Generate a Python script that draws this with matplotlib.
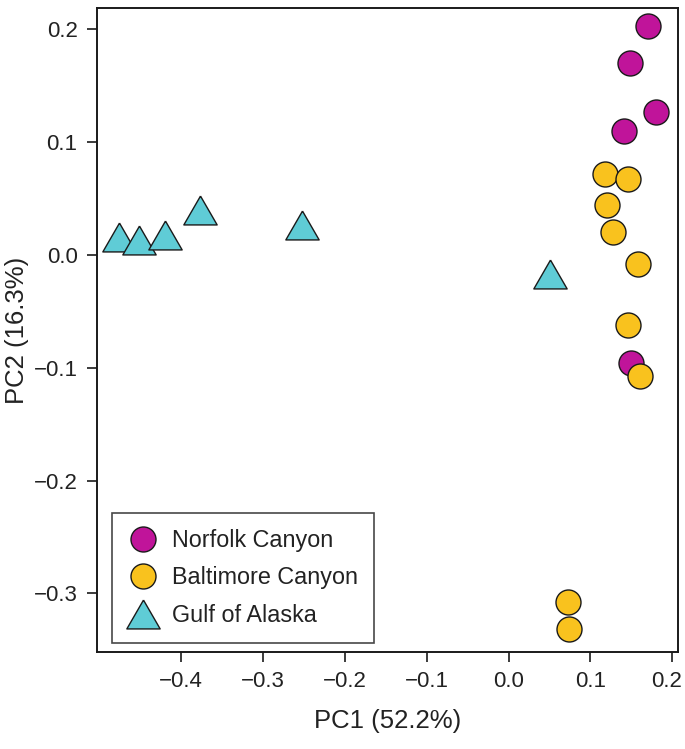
import matplotlib
matplotlib.use("Agg")
import matplotlib.pyplot as plt
import matplotlib.transforms as mtransforms
import numpy as np

plt.rcParams['font.family'] = ['Liberation Sans', 'DejaVu Sans']

# PCA scores
norfolk_x = [0.170, 0.148, 0.180, 0.141, 0.149]
norfolk_y = [0.203, 0.170, 0.127, 0.110, -0.096]
baltimore_x = [0.118, 0.146, 0.120, 0.127, 0.158, 0.146, 0.160, 0.072, 0.074]
baltimore_y = [0.072, 0.067, 0.044, 0.020, -0.008, -0.062, -0.107, -0.308, -0.332]
alaska_x = [-0.476, -0.452, -0.420, -0.377, -0.252, 0.050]
alaska_y = [0.016, 0.013, 0.018, 0.040, 0.027, -0.017]

groups = ["Norfolk Canyon", "Baltimore Canyon", "Gulf of Alaska"]
colors = ["#C0149A", "#F9C21E", "#5FCCD6"]

tri = [(0, 0.866), (-1, -0.866), (1, -0.866), (0, 0.866)]

fig = plt.figure(figsize=(6.85, 7.49), dpi=100)
ax = fig.add_axes([0.1416, 0.1295, 0.8482, 0.8598])

ax.plot(norfolk_x, norfolk_y, 'o', ms=18, mfc=colors[0], mec='#1a1a1a', mew=1.0,
        ls='none', label=groups[0])
ax.plot(baltimore_x, baltimore_y, 'o', ms=18, mfc=colors[1], mec='#1a1a1a', mew=1.0,
        ls='none', label=groups[1])
ax.plot(alaska_x, alaska_y, marker=tri, ms=24, mfc=colors[2], mec='#1a1a1a', mew=1.0,
        ls='none', label=groups[2])

ax.set_xlim(-0.503, 0.207)
ax.set_ylim(-0.352, 0.219)
ax.set_xticks(np.arange(-0.4, 0.21, 0.1))
ax.set_yticks(np.arange(-0.3, 0.21, 0.1))
ax.set_xticklabels(["\u22120.4", "\u22120.3", "\u22120.2", "\u22120.1", "0.0", "0.1", "0.2"])
ax.set_yticklabels(["\u22120.3", "\u22120.2", "\u22120.1", "0.0", "0.1", "0.2"])
ax.tick_params(labelsize=16, length=7, width=1.2, color='#1a1a1a', labelcolor='#222222', pad=7)
for sp in ax.spines.values():
    sp.set_linewidth(1.4)
    sp.set_color('#1a1a1a')
# nudge the last x label a little left so it stays inside the figure
last = ax.get_xticklabels()[-1]
last.set_transform(last.get_transform() +
                   mtransforms.ScaledTranslation(-4 / 72, 0, fig.dpi_scale_trans))

ax.set_xlabel("PC1 (52.2%)", fontsize=18.5, color='#222222', labelpad=12)
ax.set_ylabel("PC2 (16.3%)", fontsize=18.5, color='#222222', labelpad=3)

leg = ax.legend(loc='lower left', bbox_to_anchor=(0.025, 0.0145), borderaxespad=0,
                fontsize=16.8, frameon=True, fancybox=False, edgecolor='#1a1a1a',
                labelspacing=0.62, handletextpad=0.6, borderpad=0.68, handlelength=1.3)
leg.get_frame().set_linewidth(1.2)
for t in leg.get_texts():
    t.set_color('#222222')

fig.savefig("out.png", dpi=100)
